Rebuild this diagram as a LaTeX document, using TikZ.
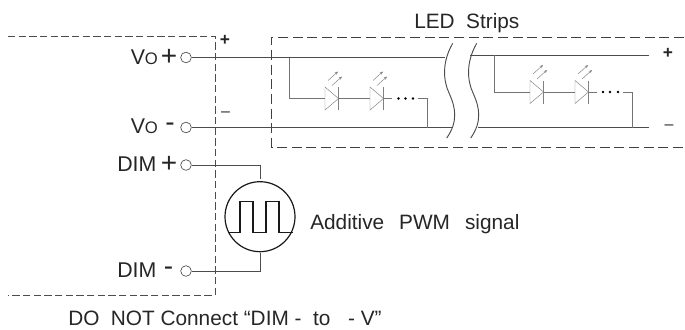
\documentclass[tikz,border=0pt]{standalone}
\usepackage{fontspec}
\setmainfont{Liberation Sans}
\usetikzlibrary{arrows.meta}
\tikzset{
  wire/.style={draw=black!70,line width=0.6pt},
  thinwire/.style={draw=black!55,line width=0.5pt},
  boxdash/.style={draw=black!75,line width=0.7pt,dash pattern=on 7.5pt off 3.5pt},
  psudash/.style={draw=black!70,line width=0.5pt,dash pattern=on 5.5pt off 2.5pt},
  terminal/.style={circle,draw=black!70,fill=white,line width=0.5pt,minimum size=8pt,inner sep=0pt},
  lbl/.style={font=\fontsize{15.6}{17}\selectfont,text=black!85,inner sep=0pt,anchor=base west},
  biglbl/.style={lbl,font=\fontsize{16}{18}\selectfont},
  sym/.style={font=\fontsize{13}{14}\selectfont\bfseries,text=black!85,inner sep=0pt},
  bigsym/.style={font=\fontsize{21}{22}\selectfont,text=black!85,inner sep=0pt},
  led/.pic={
    \draw[draw=black!50,line width=0.35pt] (0,-11.5) -- (0,11.5) -- (13.5,0) -- cycle;
    \draw[draw=black!50,line width=0.35pt] (13.5,-11.5) -- (13.5,11.5);
    \draw[draw=black!50,line width=0.35pt,-{Stealth[length=2.5pt,width=2pt]}] (3,-18) -- (13,-27);
    \draw[draw=black!50,line width=0.35pt,-{Stealth[length=2.5pt,width=2pt]}] (7,-13) -- (17,-22);
  }
}
\begin{document}
\begin{tikzpicture}[x=0.75pt,y=-0.75pt]
\useasboundingbox (0,0) rectangle (685,329);
% power supply outline
\draw[psudash] (8,36) -- (215,36) -- (215,295) -- (8,295);
% strip outline
\draw[boxdash] (684,37) -- (271.5,37) -- (271.5,147) -- (684,147);
% terminals
\node[terminal] (vp) at (186,57.5) {};
\node[terminal] (vm) at (186,127.5) {};
\node[terminal] (dp) at (186,165) {};
\node[terminal] (dm) at (186,271) {};
% free ends of wires
\coordinate (t1) at (445,57.5);
\coordinate (b1) at (452,127.5);
\coordinate (t2) at (470,55);
\coordinate (t3) at (649,55);
\coordinate (b2) at (478,127.5);
\coordinate (b3) at (649,127.5);
\draw[wire] (vp) -- (t1);
\draw[wire] (vm) -- (b1);
\draw[wire] (t2) -- (t3);
\draw[wire] (b2) -- (b3);
% breaks
\draw[draw=black!70,line width=0.7pt] (452.7,43.3) .. controls (442,62) and (443,80) .. (449,93) .. controls (456,108) and (458,122) .. (446.7,138);
\draw[draw=black!70,line width=0.7pt] (476.7,43.3) .. controls (466,62) and (467,80) .. (473,93) .. controls (480,108) and (482,122) .. (470.7,138);
% left string
\draw[thinwire] (289,57.5) -- (289,98.5) -- (325,98.5);
\pic at (325,98.5) {led};
\draw[thinwire] (338.5,98.5) -- (370,98.5);
\pic at (370,98.5) {led};
\draw[thinwire] (383.5,98.5) -- (392,98.5);
\fill[black] (398.5,98.5) circle (1.3) (405.5,98.5) circle (1.3) (413,98.5) circle (1.3);
\draw[thinwire] (418,98.5) -- (427,98.5) -- (427,127.5);
% right string
\draw[thinwire] (494,55) -- (494,92) -- (530,92);
\pic at (530,92) {led};
\draw[thinwire] (543.5,92) -- (575,92);
\pic at (575,92) {led};
\draw[thinwire] (588.5,92) -- (597,92);
\fill[black] (603,92) circle (1.3) (610,92) circle (1.3) (618,92) circle (1.3);
\draw[thinwire] (623,92) -- (632,92) -- (632,127.5);
% PWM source
\node[circle,draw=black!90,line width=0.9pt,fill=white,inner sep=0pt,minimum size=52.5pt] (pwm) at (260,216.7) {};
\draw[draw=black!90,line width=0.9pt] (227.5,232.7) -- (240,232.7) -- (240,201.7) -- (253,201.7) -- (253,232.7) -- (266,232.7) -- (266,201.7) -- (279,201.7) -- (279,232.7) -- (292.5,232.7);
\coordinate (dpc) at (260,179);
\coordinate (dmc) at (260,253);
\draw[wire] (dp) -- (260,165) -- (dpc);
\draw[wire] (dm) -- (260,271) -- (dmc);
% labels
\node[lbl] (l1) at (414,28) {LED\hspace{0.55em}Strips};
\node[lbl] (l2) at (310,229) {Additive\hspace{0.72em}PWM\hspace{0.72em}signal};
\node[lbl] (l3) at (68,325.5) {DO\hspace{0.55em}NOT Connect “DIM -\hspace{0.55em}to\hspace{0.85em}- V”};
\node[biglbl] (v1) at (130.5,64) {V\fontsize{12.5}{14}\selectfont O};
\node[biglbl] (v2) at (130.5,133.5) {V\fontsize{12.5}{14}\selectfont O};
\node[biglbl] (d1) at (117,171) {DIM};
\node[biglbl] (d2) at (117,277.5) {DIM};
\node[bigsym] (s1) at (169,57) {+};
\node[bigsym] (s2) at (170,127) {-};
\node[bigsym] (s3) at (169,164.5) {+};
\node[bigsym] (s4) at (168.5,271) {-};
\node[sym] (p1) at (225,40.7) {+};
\node[sym,font=\fontsize{12}{14}\selectfont] (m1) at (225.5,114.3) {–};
\node[sym] (p2) at (668,53.5) {+};
\node[sym,font=\fontsize{12}{14}\selectfont] (m2) at (669,127.5) {–};
\end{tikzpicture}
\end{document}
